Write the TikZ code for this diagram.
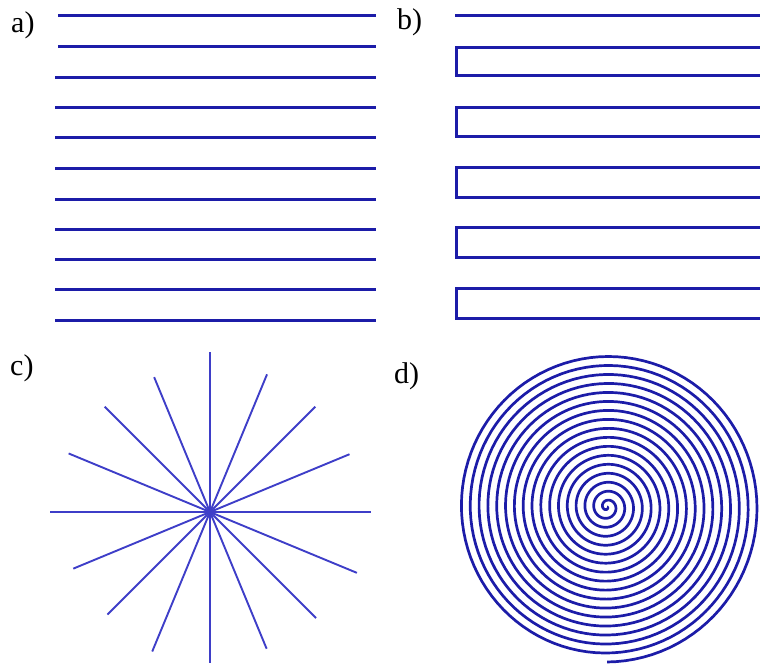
\documentclass[tikz,border=0pt]{standalone}
\usepackage{fontspec}
\setmainfont{Liberation Serif}
\usetikzlibrary{positioning}
\definecolor{lineblue}{RGB}{28,28,168}
\definecolor{rayblue}{RGB}{62,62,200}
\tikzset{
	scanline/.style={line width=3pt, draw=lineblue, line join=miter}
}
\tikzset{
	rayline/.style={line width=1.9pt, draw=rayblue}
}
\tikzset{
	panellabel/.style={font=\fontsize{30}{30}\selectfont, inner sep=0pt, anchor=base west}
}

\begin{document}
\begin{tikzpicture}[x=1pt,y=-1pt]

			\useasboundingbox (0,0) rectangle (760,665);

			\begin{scope}
				\node[panellabel] (la) at (11,32) {a)};
				\foreach \yy/\xs in {15/58,46/58,77/55,107/55,137/55,168/55,199/55,229/55,259/55,289/55,320/55}{
						\draw[scanline] (\xs,\yy) -- (376,\yy);
					}
			\end{scope}

			\begin{scope}
				\node[panellabel] (lb) at (397,29) {b)};
				\draw[scanline] (455,15) -- (760,15);
				\foreach \yt/\yb in {47/75.5,107/136,167/197,227/257,288/318}{
						\draw[scanline] (760,\yt) -- (456,\yt) -- (456,\yb) -- (760,\yb);
					}
			\end{scope}

			\begin{scope}
				\node[panellabel] (lc) at (10,375) {c)};
				\coordinate (hub) at (210,512);
				\foreach \a/\len in {0/161,22.5/159,45/150,67.5/148,90/151,112.5/151,135/145,157.5/148,180/160,202.5/153,225/149,247.5/146,270/160,292.5/149,315/149,337.5/151}{
						\draw[rayline] (hub) -- ++(\a:\len);
					}
			\end{scope}

			\begin{scope}
				\node[panellabel] (ld) at (394,383) {d)};
				\coordinate (eye) at (607,507);
				\draw[scanline, line width=2.7pt] plot[domain=0:6210, samples=1800]
					({607+(\x/6120)*150*cos(\x)}, {507+(\x/6210)*155*sin(\x)});
			\end{scope}

		\end{tikzpicture}
\end{document}
